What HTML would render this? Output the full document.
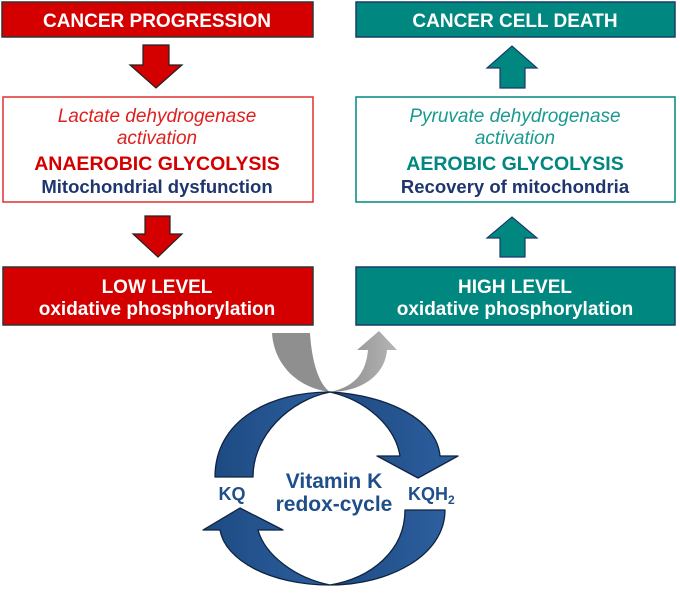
<!DOCTYPE html>
<html><head><style>
body{margin:0;width:680px;height:591px;background:#fff;overflow:hidden;font-family:"Liberation Sans",Arial,sans-serif}
</style></head><body>
<svg width="680" height="591" viewBox="0 0 680 591" xmlns="http://www.w3.org/2000/svg" font-family="Liberation Sans, Arial, sans-serif">
<defs>
<linearGradient id="gl" x1="0" x2="1"><stop offset="0" stop-color="#8a8a8a"/><stop offset="1" stop-color="#b5b5b5"/></linearGradient>
<linearGradient id="bl" x1="0" x2="1"><stop offset="0" stop-color="#1d4a82"/><stop offset="1" stop-color="#2d5f9e"/></linearGradient>
</defs>
<!-- left column -->
<rect x="2" y="2" width="311" height="35" fill="#d40000" stroke="#333" stroke-width="1.5"/>
<text x="157" y="27" fill="#fff" font-size="19" font-weight="bold" text-anchor="middle">CANCER PROGRESSION</text>
<path d="M143,45 H169 V65 H182 L156,88 L130,65 H143 Z" fill="#d40000" stroke="#222" stroke-width="1.2"/>
<rect x="3" y="97" width="310" height="105" fill="#fff" stroke="#e03030" stroke-width="1.5"/>
<text x="157" y="122" fill="#e02020" font-size="19" font-style="italic" text-anchor="middle">Lactate dehydrogenase</text>
<text x="157" y="144" fill="#e02020" font-size="19" font-style="italic" text-anchor="middle">activation</text>
<text x="157" y="170" fill="#d40000" font-size="19.5" font-weight="bold" text-anchor="middle">ANAEROBIC GLYCOLYSIS</text>
<text x="157" y="193" fill="#1f356e" font-size="18.5" font-weight="bold" text-anchor="middle">Mitochondrial dysfunction</text>
<path d="M145,216 H170 V234 H182 L158,257 L133,234 H145 Z" fill="#d40000" stroke="#222" stroke-width="1.2"/>
<rect x="3" y="267" width="310" height="58" fill="#d40000" stroke="#333" stroke-width="1.5"/>
<text x="157" y="293" fill="#fff" font-size="19" font-weight="bold" text-anchor="middle">LOW LEVEL</text>
<text x="157" y="315" fill="#fff" font-size="19" font-weight="bold" text-anchor="middle">oxidative phosphorylation</text>
<!-- right column -->
<rect x="356" y="2" width="319" height="35" fill="#00877f" stroke="#1a3a6a" stroke-width="1.5"/>
<text x="515" y="27" fill="#fff" font-size="19" font-weight="bold" text-anchor="middle">CANCER CELL DEATH</text>
<path d="M500,88 H525 V68 H537 L512,46 L487,68 H500 Z" fill="#00877f" stroke="#1a3a6a" stroke-width="1.2"/>
<rect x="356" y="97" width="319" height="105" fill="#fff" stroke="#00877f" stroke-width="1.5"/>
<text x="515" y="122" fill="#1a9a90" font-size="19" font-style="italic" text-anchor="middle">Pyruvate dehydrogenase</text>
<text x="515" y="144" fill="#1a9a90" font-size="19" font-style="italic" text-anchor="middle">activation</text>
<text x="515" y="170" fill="#00877f" font-size="19.5" font-weight="bold" text-anchor="middle">AEROBIC GLYCOLYSIS</text>
<text x="515" y="193" fill="#1f356e" font-size="18.5" font-weight="bold" text-anchor="middle">Recovery of mitochondria</text>
<path d="M500,257 H525 V238 H537 L512,217 L487,238 H500 Z" fill="#00877f" stroke="#1a3a6a" stroke-width="1.2"/>
<rect x="356" y="267" width="319" height="58" fill="#00877f" stroke="#1a3a6a" stroke-width="1.5"/>
<text x="515" y="293" fill="#fff" font-size="19" font-weight="bold" text-anchor="middle">HIGH LEVEL</text>
<text x="515" y="315" fill="#fff" font-size="19" font-weight="bold" text-anchor="middle">oxidative phosphorylation</text>
<!-- gray U arrow -->
<path d="M272,333 L310,333 C312,365 320,385 330,392 C298,388 274,365 272,333 Z" fill="#8f8f8f"/>
<path d="M330,392 C358,386 366,370 368,350 L357,350 L379,331 L397,350 L387,350 C385,376 360,392 330,392 Z" fill="url(#gl)"/>
<!-- blue cycle -->
<g fill="url(#bl)" stroke="#0f2340" stroke-width="1.3" stroke-linejoin="round">
<path d="M330,392 C270,392 215,420 215,477 L253,477 C253,435 290,400 330,392 Z"/>
<path d="M330,392 C388,395 437,420 440,456 L458,456 L418,478 L377,456 L400,456 C395,425 365,400 330,392 Z"/>
<path d="M405,510 L445,510 C445,555 390,585 330,585 C372,578 405,550 405,510 Z"/>
<path d="M330,585 C270,585 225,560 220,530 L203,530 L240,508 L283,530 L258,530 C265,555 295,578 330,585 Z"/>
</g>
<text x="334" y="488" fill="#1f4f8a" font-size="21" font-weight="bold" text-anchor="middle">Vitamin K</text>
<text x="334" y="511" fill="#1f4f8a" font-size="21" font-weight="bold" text-anchor="middle">redox-cycle</text>
<text x="232" y="500" fill="#1f4f8a" font-size="18" font-weight="bold" text-anchor="middle">KQ</text>
<text x="408" y="500" fill="#1f4f8a" font-size="18" font-weight="bold">KQH<tspan font-size="12" dy="4">2</tspan></text>
</svg>
</body></html>
